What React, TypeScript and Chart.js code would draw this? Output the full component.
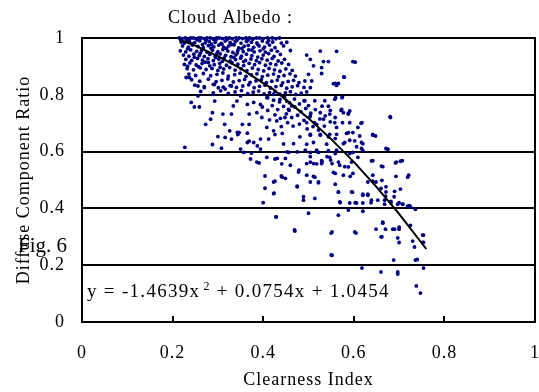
import React, { useEffect, useRef } from "react";
import { Chart, registerables } from "chart.js";

Chart.register(...registerables);

const FONT = "'Liberation Serif', 'Times New Roman', serif";

const titleText = "Cloud Albedo :";
const figLabel = "Fig. 6";
const xAxisTitle = "Clearness Index";
const yAxisTitle = "Diffuse Component Ratio";
const equationMain = "y = -1.4639x";
const equationExp = "2";
const equationRest = " + 0.0754x + 1.0454";
const innerTickValues = [0.2, 0.4, 0.6, 0.8];

const trendX = [0.22, 0.25, 0.3, 0.35, 0.4, 0.42, 0.45, 0.5, 0.55, 0.6, 0.65, 0.7, 0.76];
const trendY = [0.991, 0.973, 0.936, 0.893, 0.841, 0.822, 0.783, 0.717, 0.644, 0.564, 0.476, 0.381, 0.257];

const topBand: [number, number][] = [
  [0.215, 1], [0.221, 0.998], [0.228, 1], [0.234, 0.996], [0.24, 1], [0.246, 1], [0.252, 0.997], [0.258, 1],
  [0.263, 1], [0.27, 0.998], [0.276, 1], [0.283, 1], [0.29, 0.996], [0.297, 1], [0.303, 1], [0.31, 0.998],
  [0.318, 1], [0.325, 1], [0.332, 0.997], [0.34, 1], [0.347, 1], [0.355, 0.998], [0.362, 1], [0.37, 1],
  [0.377, 0.996], [0.385, 1], [0.392, 1], [0.4, 0.998], [0.41, 1], [0.42, 1], [0.428, 0.997], [0.436, 1],
  [0.219, 0.986], [0.226, 0.982], [0.237, 0.988], [0.249, 0.984], [0.26, 0.99], [0.272, 0.983], [0.281, 0.987],
  [0.294, 0.985], [0.307, 0.981], [0.316, 0.989], [0.327, 0.984], [0.338, 0.987], [0.351, 0.982], [0.363, 0.988],
  [0.374, 0.985], [0.386, 0.983], [0.398, 0.989], [0.409, 0.984], [0.421, 0.986], [0.44, 0.982], [0.452, 0.985],
  [0.222, 0.972], [0.235, 0.968], [0.244, 0.975], [0.256, 0.97], [0.268, 0.966], [0.279, 0.973], [0.291, 0.969],
  [0.302, 0.975], [0.313, 0.967], [0.324, 0.972], [0.336, 0.976], [0.346, 0.965], [0.358, 0.971], [0.367, 0.974],
  [0.379, 0.967], [0.391, 0.972], [0.403, 0.968], [0.414, 0.975], [0.426, 0.966], [0.445, 0.972],
  [0.218, 0.993], [0.231, 0.991], [0.243, 0.979], [0.255, 0.994], [0.266, 0.977], [0.274, 0.992], [0.286, 0.978],
  [0.296, 0.993], [0.309, 0.978], [0.32, 0.994], [0.331, 0.977], [0.342, 0.992], [0.353, 0.963], [0.366, 0.992],
  [0.375, 0.958], [0.388, 0.977], [0.4, 0.962], [0.412, 0.991],
];

const upperCloud: [number, number][] = [
  [0.217, 0.955], [0.229, 0.951], [0.24, 0.958], [0.253, 0.953], [0.264, 0.956], [0.276, 0.95], [0.288, 0.957],
  [0.3, 0.952], [0.311, 0.959], [0.322, 0.954], [0.333, 0.949], [0.344, 0.956], [0.356, 0.952], [0.368, 0.958],
  [0.38, 0.951], [0.393, 0.955], [0.405, 0.95], [0.418, 0.957], [0.431, 0.953], [0.46, 0.956],
  [0.224, 0.94], [0.236, 0.936], [0.247, 0.943], [0.259, 0.938], [0.27, 0.935], [0.282, 0.942], [0.294, 0.937],
  [0.305, 0.944], [0.317, 0.939], [0.329, 0.934], [0.34, 0.941], [0.352, 0.936], [0.363, 0.943], [0.375, 0.938],
  [0.388, 0.933], [0.4, 0.94], [0.412, 0.945], [0.424, 0.935], [0.438, 0.942],
  [0.229, 0.925], [0.242, 0.921], [0.255, 0.928], [0.266, 0.922], [0.278, 0.927], [0.29, 0.92], [0.302, 0.926],
  [0.314, 0.93], [0.327, 0.919], [0.339, 0.924], [0.35, 0.929], [0.361, 0.921], [0.373, 0.926], [0.385, 0.92],
  [0.397, 0.927], [0.409, 0.922], [0.42, 0.928], [0.433, 0.919], [0.447, 0.925],
  [0.226, 0.907], [0.238, 0.912], [0.252, 0.905], [0.265, 0.91], [0.279, 0.914], [0.292, 0.906], [0.304, 0.911],
  [0.319, 0.904], [0.331, 0.913], [0.344, 0.908], [0.357, 0.903], [0.369, 0.911], [0.381, 0.906], [0.392, 0.913],
  [0.405, 0.904], [0.416, 0.91], [0.428, 0.906], [0.441, 0.912], [0.456, 0.907],
  [0.232, 0.892], [0.246, 0.888], [0.261, 0.895], [0.274, 0.889], [0.287, 0.893], [0.3, 0.886], [0.313, 0.891],
  [0.326, 0.896], [0.338, 0.887], [0.351, 0.892], [0.364, 0.885], [0.376, 0.894], [0.389, 0.889], [0.401, 0.884],
  [0.413, 0.893], [0.425, 0.888], [0.437, 0.883], [0.45, 0.891], [0.464, 0.886],
  [0.236, 0.873], [0.251, 0.868], [0.268, 0.875], [0.284, 0.867], [0.298, 0.872], [0.311, 0.877], [0.323, 0.866],
  [0.337, 0.871], [0.349, 0.876], [0.362, 0.865], [0.374, 0.87], [0.386, 0.874], [0.398, 0.864], [0.41, 0.869],
  [0.423, 0.873], [0.434, 0.864], [0.446, 0.868], [0.459, 0.874], [0.471, 0.866],
  [0.242, 0.853], [0.26, 0.848], [0.279, 0.855], [0.296, 0.846], [0.309, 0.851], [0.322, 0.856], [0.334, 0.845],
  [0.347, 0.85], [0.359, 0.854], [0.371, 0.844], [0.384, 0.849], [0.396, 0.853], [0.407, 0.843], [0.419, 0.848],
  [0.431, 0.852], [0.443, 0.842], [0.455, 0.847], [0.467, 0.851], [0.479, 0.843],
  [0.249, 0.834], [0.27, 0.829], [0.292, 0.836], [0.312, 0.827], [0.327, 0.832], [0.341, 0.826], [0.355, 0.831],
  [0.368, 0.835], [0.38, 0.825], [0.392, 0.83], [0.404, 0.834], [0.416, 0.824], [0.428, 0.829], [0.44, 0.833],
  [0.452, 0.823], [0.464, 0.828], [0.476, 0.832], [0.49, 0.826],
  [0.262, 0.812], [0.29, 0.807], [0.306, 0.814], [0.323, 0.805], [0.338, 0.81], [0.352, 0.815], [0.366, 0.804],
  [0.378, 0.809], [0.39, 0.813], [0.402, 0.803], [0.414, 0.808], [0.426, 0.812], [0.437, 0.802], [0.449, 0.807],
  [0.46, 0.811], [0.472, 0.801], [0.484, 0.806], [0.496, 0.81],
  [0.233, 0.962], [0.261, 0.946], [0.285, 0.964], [0.298, 0.947], [0.319, 0.963], [0.343, 0.947], [0.248, 0.932],
  [0.272, 0.915], [0.295, 0.931], [0.31, 0.918], [0.335, 0.932], [0.233, 0.9], [0.257, 0.899], [0.282, 0.902],
  [0.305, 0.897], [0.357, 0.917],
  [0.526, 0.954], [0.504, 0.925], [0.496, 0.94], [0.511, 0.902], [0.529, 0.896], [0.529, 0.875], [0.533, 0.917],
  [0.544, 0.917], [0.598, 0.917], [0.578, 0.863], [0.555, 0.839], [0.562, 0.833], [0.492, 0.849], [0.5, 0.872],
  [0.504, 0.825], [0.507, 0.849], [0.562, 0.953], [0.579, 0.862], [0.559, 0.84], [0.566, 0.84], [0.603, 0.915],
];

const middleCloud: [number, number][] = [
  [0.41, 0.79], [0.423, 0.781], [0.436, 0.775], [0.447, 0.791], [0.458, 0.772], [0.469, 0.785], [0.48, 0.768],
  [0.49, 0.779], [0.5, 0.762], [0.47, 0.757], [0.457, 0.745], [0.445, 0.759], [0.432, 0.748], [0.42, 0.762],
  [0.41, 0.745], [0.398, 0.757], [0.483, 0.741], [0.494, 0.752], [0.505, 0.735], [0.515, 0.748], [0.476, 0.728],
  [0.463, 0.72], [0.451, 0.733], [0.438, 0.717], [0.426, 0.729], [0.414, 0.712], [0.49, 0.71], [0.503, 0.722],
  [0.513, 0.702], [0.525, 0.715], [0.537, 0.726], [0.48, 0.697], [0.466, 0.69], [0.454, 0.702], [0.44, 0.688],
  [0.497, 0.68], [0.51, 0.688], [0.522, 0.676], [0.535, 0.69], [0.548, 0.705], [0.559, 0.72], [0.548, 0.745],
  [0.53, 0.76],
  [0.241, 0.773], [0.248, 0.757], [0.259, 0.757], [0.273, 0.696], [0.284, 0.714], [0.288, 0.737], [0.293, 0.778],
  [0.311, 0.732], [0.315, 0.696], [0.33, 0.732], [0.326, 0.673], [0.33, 0.644], [0.344, 0.66], [0.288, 0.625],
  [0.3, 0.653], [0.227, 0.615], [0.35, 0.609], [0.357, 0.597], [0.372, 0.574], [0.386, 0.563], [0.394, 0.609],
  [0.394, 0.644], [0.408, 0.58], [0.426, 0.574], [0.441, 0.557], [0.365, 0.632], [0.379, 0.632], [0.347, 0.667],
  [0.354, 0.696], [0.369, 0.696], [0.369, 0.732], [0.386, 0.737], [0.397, 0.72], [0.408, 0.685], [0.423, 0.673],
  [0.43, 0.708], [0.448, 0.72], [0.456, 0.749], [0.463, 0.761], [0.445, 0.627], [0.456, 0.597], [0.426, 0.66],
  [0.412, 0.644], [0.334, 0.761], [0.342, 0.778], [0.35, 0.796], [0.365, 0.766], [0.379, 0.773], [0.394, 0.766],
  [0.408, 0.79], [0.423, 0.802], [0.437, 0.784], [0.452, 0.778], [0.256, 0.796], [0.29, 0.802], [0.27, 0.825],
  [0.237, 0.861], [0.256, 0.831], [0.23, 0.861], [0.29, 0.837], [0.301, 0.825], [0.316, 0.82], [0.33, 0.831],
  [0.308, 0.612], [0.316, 0.65], [0.343, 0.668], [0.365, 0.665], [0.369, 0.637], [0.374, 0.595], [0.387, 0.62],
  [0.391, 0.56],
  [0.492, 0.779], [0.514, 0.779], [0.536, 0.779], [0.558, 0.784], [0.575, 0.793], [0.544, 0.76], [0.526, 0.737],
  [0.547, 0.732], [0.573, 0.749], [0.577, 0.737], [0.588, 0.732], [0.591, 0.743], [0.68, 0.723], [0.504, 0.726],
  [0.496, 0.702], [0.518, 0.696], [0.533, 0.714], [0.558, 0.702], [0.562, 0.685], [0.575, 0.702], [0.591, 0.702],
  [0.618, 0.702], [0.609, 0.685], [0.588, 0.667], [0.598, 0.667], [0.613, 0.655], [0.602, 0.638], [0.617, 0.632],
  [0.642, 0.661], [0.648, 0.655], [0.675, 0.609], [0.642, 0.568], [0.664, 0.547], [0.694, 0.563], [0.707, 0.568],
  [0.504, 0.661], [0.526, 0.661], [0.547, 0.661], [0.562, 0.661], [0.511, 0.632], [0.54, 0.626], [0.58, 0.632],
  [0.496, 0.626], [0.504, 0.597], [0.522, 0.597], [0.544, 0.603], [0.598, 0.597], [0.62, 0.603], [0.504, 0.563],
  [0.518, 0.557], [0.529, 0.568], [0.547, 0.58], [0.566, 0.563], [0.58, 0.547], [0.595, 0.563], [0.609, 0.58],
  [0.681, 0.72], [0.616, 0.7], [0.574, 0.79], [0.56, 0.79], [0.588, 0.735], [0.572, 0.745],
];

const lowerCloud: [number, number][] = [
  [0.442, 0.664], [0.431, 0.576], [0.449, 0.576], [0.46, 0.552], [0.478, 0.528], [0.496, 0.517], [0.514, 0.51],
  [0.529, 0.558], [0.522, 0.493], [0.504, 0.493], [0.442, 0.51], [0.423, 0.493], [0.423, 0.452], [0.475, 0.476],
  [0.489, 0.441], [0.489, 0.429], [0.514, 0.435], [0.566, 0.458], [0.595, 0.458], [0.569, 0.423], [0.591, 0.419],
  [0.606, 0.419], [0.62, 0.419], [0.639, 0.567], [0.661, 0.549], [0.642, 0.517], [0.662, 0.499], [0.671, 0.476],
  [0.631, 0.493], [0.649, 0.493], [0.62, 0.446], [0.631, 0.446], [0.639, 0.429], [0.653, 0.429], [0.668, 0.429],
  [0.682, 0.419], [0.697, 0.415], [0.708, 0.415], [0.719, 0.408], [0.689, 0.441], [0.671, 0.458], [0.569, 0.552],
  [0.588, 0.546], [0.598, 0.523], [0.577, 0.517], [0.559, 0.523], [0.549, 0.57], [0.559, 0.593], [0.562, 0.605],
  [0.577, 0.628], [0.591, 0.64], [0.606, 0.617], [0.617, 0.611], [0.62, 0.628], [0.591, 0.593], [0.552, 0.558],
  [0.53, 0.564], [0.541, 0.582], [0.496, 0.558], [0.511, 0.558], [0.504, 0.582], [0.467, 0.628], [0.481, 0.652],
  [0.504, 0.658], [0.526, 0.658], [0.544, 0.652], [0.559, 0.646], [0.584, 0.664], [0.642, 0.658], [0.671, 0.611],
  [0.453, 0.599], [0.475, 0.599], [0.493, 0.605], [0.518, 0.605],
  [0.404, 0.514], [0.404, 0.471], [0.4, 0.42], [0.429, 0.37], [0.47, 0.32], [0.44, 0.514], [0.449, 0.506],
  [0.426, 0.496], [0.424, 0.454], [0.475, 0.478], [0.479, 0.535],
  [0.675, 0.608], [0.703, 0.566], [0.692, 0.56], [0.719, 0.51], [0.703, 0.468], [0.725, 0.405], [0.736, 0.397],
  [0.752, 0.306], [0.752, 0.28], [0.734, 0.264], [0.725, 0.34], [0.664, 0.348], [0.66, 0.3], [0.697, 0.296],
  [0.69, 0.327], [0.67, 0.327], [0.649, 0.327], [0.605, 0.313], [0.55, 0.313], [0.469, 0.324], [0.428, 0.37],
  [0.55, 0.236], [0.566, 0.376], [0.5, 0.383], [0.588, 0.394],
  [0.618, 0.19], [0.66, 0.176], [0.697, 0.176], [0.754, 0.19], [0.747, 0.102], [0.738, 0.127], [0.688, 0.218],
  [0.736, 0.218],
  [0.697, 0.169], [0.74, 0.22], [0.552, 0.235], [0.552, 0.317], [0.602, 0.317], [0.664, 0.352], [0.686, 0.327],
  [0.7, 0.327], [0.662, 0.3], [0.7, 0.28], [0.73, 0.285], [0.754, 0.306], [0.754, 0.28], [0.7, 0.334],
  [0.511, 0.513], [0.522, 0.49], [0.555, 0.527], [0.559, 0.485], [0.566, 0.457], [0.57, 0.42], [0.592, 0.513],
  [0.597, 0.457], [0.603, 0.42], [0.62, 0.45], [0.631, 0.45], [0.638, 0.42], [0.62, 0.39], [0.642, 0.496],
  [0.66, 0.47], [0.67, 0.443], [0.69, 0.46], [0.693, 0.513], [0.721, 0.517], [0.7, 0.42], [0.708, 0.415],
  [0.723, 0.41], [0.682, 0.425], [0.668, 0.415],
];

const formatTick = (v: number) => String(Number(Number(v).toFixed(2)));

export default function App() {
  const canvasRef = useRef<HTMLCanvasElement>(null);

  useEffect(() => {
    const canvas = canvasRef.current;
    if (!canvas) return;

    const scatterData = [...topBand, ...upperCloud, ...middleCloud, ...lowerCloud].map(([x, y]) => ({ x, y }));
    const trendData = trendX.map((x, i) => ({ x, y: trendY[i] }));

    const decorations = {
      id: "decorations",
      beforeDraw(chart: any) {
        try { (chart.ctx as any).letterSpacing = "1px"; } catch (e) {}
      },
      beforeDatasetsDraw(chart: any) {
        const { ctx, chartArea: a, scales } = chart;
        ctx.save();
        ctx.strokeStyle = "#000";
        ctx.lineWidth = 2;
        ctx.beginPath();
        ctx.moveTo(Math.round(a.right), a.top - 1);
        ctx.lineTo(Math.round(a.right), a.bottom + 1);
        for (const v of innerTickValues) {
          const px = Math.round(scales.x.getPixelForValue(v));
          ctx.moveTo(px, a.bottom);
          ctx.lineTo(px, a.bottom - 6);
        }
        ctx.stroke();
        ctx.restore();
      },
      afterDraw(chart: any) {
        const ctx = chart.ctx;
        ctx.save();
        ctx.fillStyle = "#000";
        ctx.textAlign = "left";
        ctx.textBaseline = "alphabetic";
        try { (ctx as any).letterSpacing = "1px"; } catch (e) {}
        ctx.font = `18px ${FONT}`;
        ctx.fillText(titleText, 168, 22.5);

        try { (ctx as any).letterSpacing = "1.3px"; } catch (e) {}
        const ex = 87;
        const ey = 297;
        ctx.font = `19px ${FONT}`;
        ctx.fillText(equationMain, ex, ey);
        const w1 = ctx.measureText(equationMain).width;
        ctx.font = `12px ${FONT}`;
        ctx.fillText(equationExp, ex + w1 + 3, ey - 7);
        const w2 = ctx.measureText(equationExp).width;
        ctx.font = `19px ${FONT}`;
        ctx.fillText(equationRest, ex + w1 + 3 + w2, ey);

        try { (ctx as any).letterSpacing = "0px"; } catch (e) {}
        ctx.font = `21px ${FONT}`;
        ctx.fillText(figLabel, 18, 252);
        ctx.restore();
      },
    };

    const chart = new Chart(canvas, {
      type: "scatter",
      data: {
        datasets: [
          {
            type: "line",
            data: trendData,
            borderColor: "#000",
            borderWidth: 2,
            pointRadius: 0,
            fill: false,
            tension: 0,
            clip: false,
          } as any,
          {
            type: "scatter",
            data: scatterData,
            pointRadius: 1.9,
            pointBackgroundColor: "#000080",
            pointBorderWidth: 0,
            pointBorderColor: "#000080",
            clip: false,
          } as any,
        ],
      },
      options: {
        responsive: false,
        animation: false,
        devicePixelRatio: 1,
        layout: { padding: { top: 38, right: 2.5, left: 0, bottom: 0 } },
        plugins: {
          legend: { display: false },
          tooltip: { enabled: false },
          title: { display: false },
        },
        scales: {
          x: {
            type: "linear",
            min: 0,
            max: 1,
            ticks: {
              stepSize: 0.2,
              color: "#000",
              font: { family: FONT, size: 18 },
              padding: 20,
              maxRotation: 0,
              callback: (v: any) => formatTick(v),
            },
            grid: { display: true, drawOnChartArea: false, drawTicks: false },
            border: { display: true, color: "#000", width: 2 },
            title: {
              display: true,
              text: xAxisTitle,
              color: "#000",
              font: { family: FONT, size: 18 },
              padding: { top: 0, bottom: 0.5 },
            },
            afterFit(scale: any) {
              scale.height = 70;
              scale.paddingLeft = 0;
              scale.paddingRight = 0;
            },
          },
          y: {
            type: "linear",
            min: 0,
            max: 1,
            ticks: {
              stepSize: 0.2,
              color: "#000",
              font: { family: FONT, size: 18 },
              padding: 17,
              callback: (v: any) => formatTick(v),
            },
            grid: { display: true, color: "#000", lineWidth: 2, drawTicks: false },
            border: { display: true, color: "#000", width: 2 },
            title: {
              display: true,
              text: yAxisTitle,
              color: "#000",
              font: { family: FONT, size: 18 },
              padding: { top: 13, bottom: 0 },
            },
            afterFit(scale: any) {
              scale.width = 82;
              scale.paddingTop = 0;
              scale.paddingBottom = 0;
            },
          },
        },
      } as any,
      plugins: [decorations],
    });

    return () => chart.destroy();
  }, []);

  return (
    <div style={{ position: "absolute", left: 0, top: 0, width: 539, height: 392, background: "#fff" }}>
      <canvas ref={canvasRef} width={539} height={392} style={{ display: "block" }} />
    </div>
  );
}
